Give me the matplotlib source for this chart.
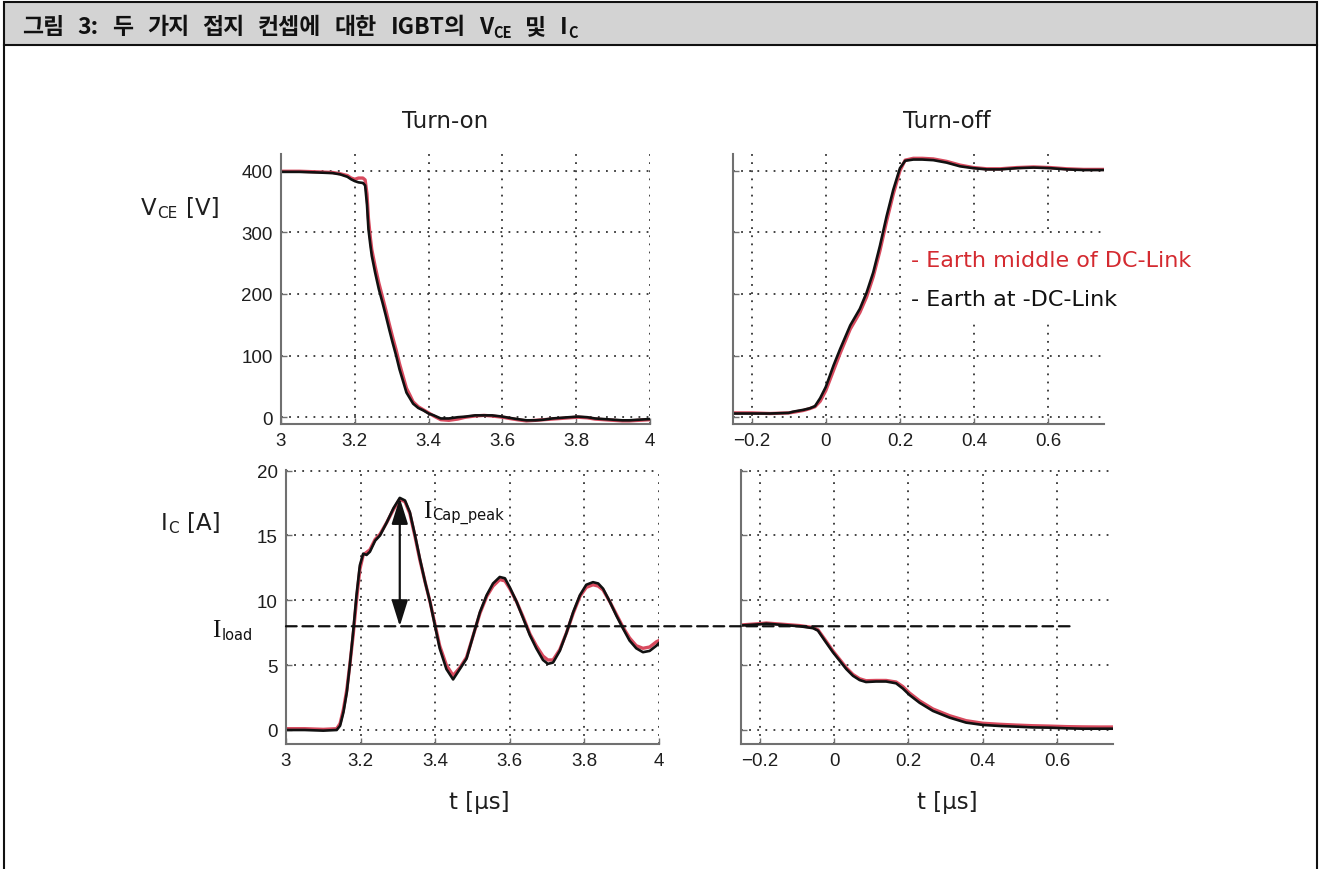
import matplotlib
matplotlib.use('Agg')
import matplotlib.pyplot as plt
from matplotlib.patches import Rectangle, ConnectionPatch
from matplotlib.lines import Line2D

# ---------------- data ----------------
# Turn-on, V_CE [V]
t_on_v = [3.00, 3.05, 3.10, 3.14, 3.16, 3.18, 3.19, 3.20, 3.21, 3.222, 3.228, 3.233, 3.237,
          3.242, 3.246, 3.255, 3.265, 3.275, 3.284, 3.293, 3.302, 3.312, 3.321, 3.33, 3.34,
          3.35, 3.358, 3.372, 3.386, 3.40, 3.414, 3.433, 3.455, 3.479, 3.50, 3.526, 3.55,
          3.572, 3.60, 3.619, 3.64, 3.665, 3.69, 3.712, 3.735, 3.758, 3.78, 3.805, 3.83,
          3.851, 3.875, 3.90, 3.925, 3.944, 3.97, 4.00]
vce_on_black = [398, 398, 397, 396, 394, 390, 386, 383, 381, 380, 376, 345, 305, 280, 262, 235,
                208, 186, 165, 143, 122, 100, 78, 60, 40, 30, 22, 15, 11, 6, 3, -2, -2, 0, 1,
                3, 3, 3, 1, -1, -3, -5, -5, -4, -2, -1, 0, 1, 0, -2, -3, -4, -5, -5, -4, -3]
vce_on_red = [399, 399, 398, 397, 395, 392, 388, 386, 388, 388, 385, 362, 322, 292, 272, 245,
              218, 195, 174, 152, 131, 109, 87, 68, 47, 35, 25, 17, 12, 7, 2, -4, -5, -3, 0,
              2, 3, 2, 0, -2, -4, -6, -5, -4, -3, -2, -1, 0, -1, -3, -4, -5, -6, -6, -5, -4]

# Turn-off, V_CE [V]
t_off_v = [-0.25, -0.20, -0.15, -0.10, -0.088, -0.06, -0.043, -0.029, -0.015, 0.0, 0.021,
           0.039, 0.066, 0.092, 0.11, 0.128, 0.146, 0.164, 0.182, 0.20, 0.214, 0.236, 0.26,
           0.29, 0.326, 0.362, 0.398, 0.434, 0.47, 0.515, 0.56, 0.605, 0.65, 0.695, 0.75]
vce_off_black = [6, 6, 6, 7, 9, 12, 14.5, 18, 31, 49, 84, 111, 149, 176, 202, 235, 278, 326,
                 369, 404, 416, 418, 418, 417, 413, 407, 404, 402, 402, 404, 405, 404, 402, 401, 401]
vce_off_red = [7, 7, 6, 7, 8, 11, 14, 17, 26, 43, 76, 104, 143, 170, 195, 228, 270, 318, 362,
               400, 417, 420, 420, 419, 415, 409, 405, 403, 403, 405, 406, 405, 403, 402, 402]

# Turn-on, I_C [A]
t_on_i = [3.00, 3.05, 3.10, 3.136, 3.145, 3.154, 3.163, 3.171, 3.18, 3.189, 3.198, 3.207, 3.216,
          3.225, 3.239, 3.252, 3.27, 3.288, 3.305, 3.319, 3.332, 3.346, 3.359, 3.373, 3.386,
          3.399, 3.412, 3.43, 3.448, 3.466, 3.484, 3.502, 3.52, 3.538, 3.555, 3.573, 3.587,
          3.60, 3.618, 3.636, 3.654, 3.671, 3.689, 3.702, 3.716, 3.734, 3.752, 3.77, 3.788,
          3.805, 3.823, 3.837, 3.85, 3.868, 3.886, 3.904, 3.921, 3.939, 3.957, 3.975, 3.993, 4.0]
ic_on_black = [0.0, 0.0, -0.05, 0.0, 0.33, 1.37, 2.9, 4.97, 7.55, 10.4, 12.7, 13.6, 13.5, 13.75,
               14.6, 15.0, 16.0, 17.1, 17.9, 17.7, 16.8, 15.0, 13.2, 11.4, 9.9, 8.1, 6.3, 4.7,
               3.9, 4.7, 5.5, 7.3, 9.1, 10.4, 11.3, 11.8, 11.7, 11.0, 9.9, 8.6, 7.3, 6.3, 5.4,
               5.1, 5.2, 6.1, 7.5, 9.1, 10.4, 11.2, 11.4, 11.3, 10.9, 9.9, 8.8, 7.8, 6.9, 6.3,
               6.0, 6.1, 6.5, 6.7]
ic_on_red = [0.1, 0.1, 0.05, 0.1, 0.5, 1.6, 3.1, 5.0, 7.3, 10.0, 12.4, 13.5, 13.7, 13.9, 14.7,
             15.1, 16.0, 17.0, 17.8, 17.6, 16.7, 14.9, 13.1, 11.4, 9.9, 8.2, 6.5, 5.0, 4.2, 4.8,
             5.6, 7.3, 9.0, 10.3, 11.1, 11.6, 11.5, 10.9, 9.9, 8.7, 7.4, 6.5, 5.7, 5.4, 5.4, 6.2,
             7.5, 9.0, 10.3, 11.0, 11.2, 11.1, 10.8, 9.9, 8.9, 7.9, 7.1, 6.5, 6.3, 6.4, 6.8, 6.9]

# Turn-off, I_C [A]
t_off_i = [-0.25, -0.20, -0.182, -0.137, -0.092, -0.056, -0.043, -0.025, -0.003, 0.015, 0.033,
           0.051, 0.069, 0.086, 0.113, 0.14, 0.167, 0.185, 0.203, 0.23, 0.266, 0.311, 0.355,
           0.40, 0.445, 0.489, 0.534, 0.579, 0.624, 0.668, 0.713, 0.75]
ic_off_black = [8.06, 8.15, 8.2, 8.1, 8.0, 7.85, 7.66, 6.9, 6.0, 5.35, 4.7, 4.18, 3.85, 3.7,
                3.74, 3.74, 3.6, 3.2, 2.7, 2.1, 1.47, 0.95, 0.57, 0.39, 0.31, 0.26, 0.2, 0.18,
                0.13, 0.1, 0.1, 0.1]
ic_off_red = [8.1, 8.2, 8.25, 8.15, 8.05, 7.9, 7.72, 7.0, 6.1, 5.45, 4.8, 4.28, 3.95, 3.8, 3.82,
              3.82, 3.7, 3.35, 2.85, 2.25, 1.62, 1.1, 0.72, 0.52, 0.44, 0.38, 0.33, 0.3, 0.26,
              0.24, 0.23, 0.23]

i_load = 8.0
i_cap_peak = 17.9
t_cap_peak = 3.305
t_load_end = 0.635

x_on_ticks = [3.0, 3.2, 3.4, 3.6, 3.8, 4.0]
x_on_labels = ['3', '3.2', '3.4', '3.6', '3.8', '4']
x_off_ticks = [-0.2, 0.0, 0.2, 0.4, 0.6]
x_off_labels = ['\u22120.2', '0', '0.2', '0.4', '0.6']
v_ticks = [0, 100, 200, 300, 400]
v_labels = ['0', '100', '200', '300', '400']
i_ticks = [0, 5, 10, 15, 20]
i_labels = ['0', '5', '10', '15', '20']

header_words = ['그림', '3:', '두', '가지', '접지', '컨셉에', '대한', 'IGBT의']
header_v = 'V'
header_sub1 = 'CE'
header_mid = '및'
header_i = 'I'
header_sub2 = 'C'
legend_red = '- Earth middle of DC-Link'
legend_black = '- Earth at -DC-Link'

# ---------------- figure ----------------
W, H = 1321, 870
plt.rcParams['font.family'] = ['Liberation Sans', 'DejaVu Sans']
fig = plt.figure(figsize=(W / 100, H / 100), dpi=100)
renderer = fig.canvas.get_renderer()

def fx(px):
    return px / W

def fy(py):
    return 1 - py / H

def add_ax(x0, y0, x1, y1):
    return fig.add_axes([fx(x0), fy(y1), (x1 - x0) / W, (y1 - y0) / H])

def seq(x, y, parts, zorder=6):
    for s, kw, dy, gap in parts:
        t = fig.text(fx(x), fy(y + dy), s, ha='left', va='baseline', zorder=zorder, **kw)
        bb = t.get_window_extent(renderer)
        x = bb.x1 + gap
    return x

RED = '#d84a5e'
BLACK = '#111111'
SPINE = '#707070'

ax1 = add_ax(281, 155, 650, 425)
ax2 = add_ax(733, 155, 1104, 425)
ax3 = add_ax(286, 471, 659, 745)
ax4 = add_ax(741, 471, 1113, 745)

for ax in (ax1, ax2, ax3, ax4):
    for s in ('top', 'right'):
        ax.spines[s].set_visible(False)
    for s in ('left', 'bottom'):
        ax.spines[s].set_color(SPINE)
        ax.spines[s].set_linewidth(1.5)
    ax.tick_params(direction='in', length=4, width=1, colors=SPINE, labelcolor='#1e1e1e',
                   labelsize=13.5, pad=6)
    ax.grid(True, linestyle=(0, (1, 3.5)), color='#333333', linewidth=1.3)
    ax.set_axisbelow(True)

ax1.plot(t_on_v, vce_on_red, color=RED, lw=2.4)
ax1.plot(t_on_v, vce_on_black, color=BLACK, lw=1.9)
ax2.plot(t_off_v, vce_off_red, color=RED, lw=2.4)
ax2.plot(t_off_v, vce_off_black, color=BLACK, lw=1.9)
ax3.plot(t_on_i, ic_on_red, color=RED, lw=2.4)
ax3.plot(t_on_i, ic_on_black, color=BLACK, lw=1.9)
ax4.plot(t_off_i, ic_off_red, color=RED, lw=2.4)
ax4.plot(t_off_i, ic_off_black, color=BLACK, lw=1.9)

for ax in (ax1, ax3):
    ax.set_xlim(3, 4)
    ax.set_xticks(x_on_ticks, x_on_labels)
for ax in (ax2, ax4):
    ax.set_xlim(-0.25, 0.75)
    ax.set_xticks(x_off_ticks, x_off_labels)
    ax.tick_params(labelleft=False)
for ax in (ax1, ax2):
    ax.set_ylim(-11, 427)
    ax.set_yticks(v_ticks, v_labels)
for ax in (ax3, ax4):
    ax.set_ylim(-1.08, 20.05)
    ax.set_yticks(i_ticks, i_labels)
ax2.set_yticklabels([])
ax4.set_yticklabels([])

# dashed I_load line spanning both current plots
con = ConnectionPatch(xyA=(3.0, i_load), coordsA=ax3.transData,
                      xyB=(t_load_end, i_load), coordsB=ax4.transData,
                      linestyle=(0, (4.8, 2.6)), lw=1.6, color=BLACK, zorder=5)
fig.add_artist(con)

# double arrow I_cap_peak
ax3.annotate('', xy=(t_cap_peak, i_cap_peak), xytext=(t_cap_peak, i_load),
             arrowprops=dict(arrowstyle='<|-|>,head_length=0.8,head_width=0.25',
                             color=BLACK, lw=1.6, mutation_scale=20,
                             shrinkA=0, shrinkB=0))

# ---------------- texts ----------------
SANS = 'DejaVu Sans'
TXT = '#1e1e1e'
for xc, s in ((445, 'Turn-on'), (947, 'Turn-off')):
    fig.text(fx(xc), fy(122), s, ha='center', va='center', family=SANS, fontsize=16.5, color=TXT)
for xc in (479, 947):
    fig.text(fx(xc), fy(803), 't [μs]', ha='center', va='center', family=SANS, fontsize=16.5, color=TXT)

lab = dict(family=SANS, fontsize=16.5, color=TXT)
sub = dict(family=SANS, fontsize=11, color=TXT)
seq(141, 215, [('V', lab, 0, 0), ('CE', sub, 3, 9), ('[V]', lab, 0, 0)])
seq(161, 530, [('I', lab, 0, 0), ('C', sub, 3, 9), ('[A]', lab, 0, 0)])

serif = dict(family='Liberation Serif', fontsize=18, color='#111111')
subs = dict(family=SANS, fontsize=10.5, color='#111111')
seq(423, 518, [('I', serif, 0, 1), ('Cap_peak', subs, 2, 0)])
seq(212, 637, [('I', serif, 0, 1), ('load', subs, 3, 0)])

# legend-like texts with white background
fig.add_artist(Rectangle((fx(903), fy(322)), (1200 - 903) / W, (322 - 236) / H,
                         transform=fig.transFigure, facecolor='white', edgecolor='none', zorder=5))
fig.text(fx(911), fy(267), legend_red, ha='left', va='baseline', family=SANS, fontsize=16,
         color='#d42a30', zorder=6)
fig.text(fx(911), fy(306), legend_black, ha='left', va='baseline', family=SANS, fontsize=16,
         color='#111111', zorder=6)

# ---------------- header / frame ----------------
fig.add_artist(Rectangle((fx(4), fy(46)), (1317 - 4) / W, 43 / H, transform=fig.transFigure,
                         facecolor='#d3d3d3', edgecolor='#111111', lw=1.5, zorder=1))
fig.add_artist(Line2D([fx(4), fx(4)], [fy(46), 0], transform=fig.transFigure, color='#111111', lw=1.5))
fig.add_artist(Line2D([fx(1317), fx(1317)], [fy(46), 0], transform=fig.transFigure, color='#111111', lw=1.5))

KR = 'Noto Sans CJK KR'
HSIZE = 16.5
hm = dict(family=KR, fontsize=HSIZE, fontweight='bold', color='#111111')
hs = dict(family=KR, fontsize=HSIZE * 0.64, fontweight='bold', color='#111111')

def header(gap, keep):
    n0 = len(fig.texts)
    parts = [(w, hm, 0, gap) for w in header_words]
    parts += [(header_v, hm, 0, 0), (header_sub1, hs, 4, gap), (header_mid, hm, 0, gap),
              (header_i, hm, 0, 1), (header_sub2, hs, 4, 0)]
    end = seq(22, 34, parts, zorder=3)
    if not keep:
        for t in fig.texts[n0:]:
            t.remove()
    return end

e0 = header(0, False)
g = max(5, (578 - e0) / 10)
header(g, True)

fig.savefig('out.png', dpi=100)
